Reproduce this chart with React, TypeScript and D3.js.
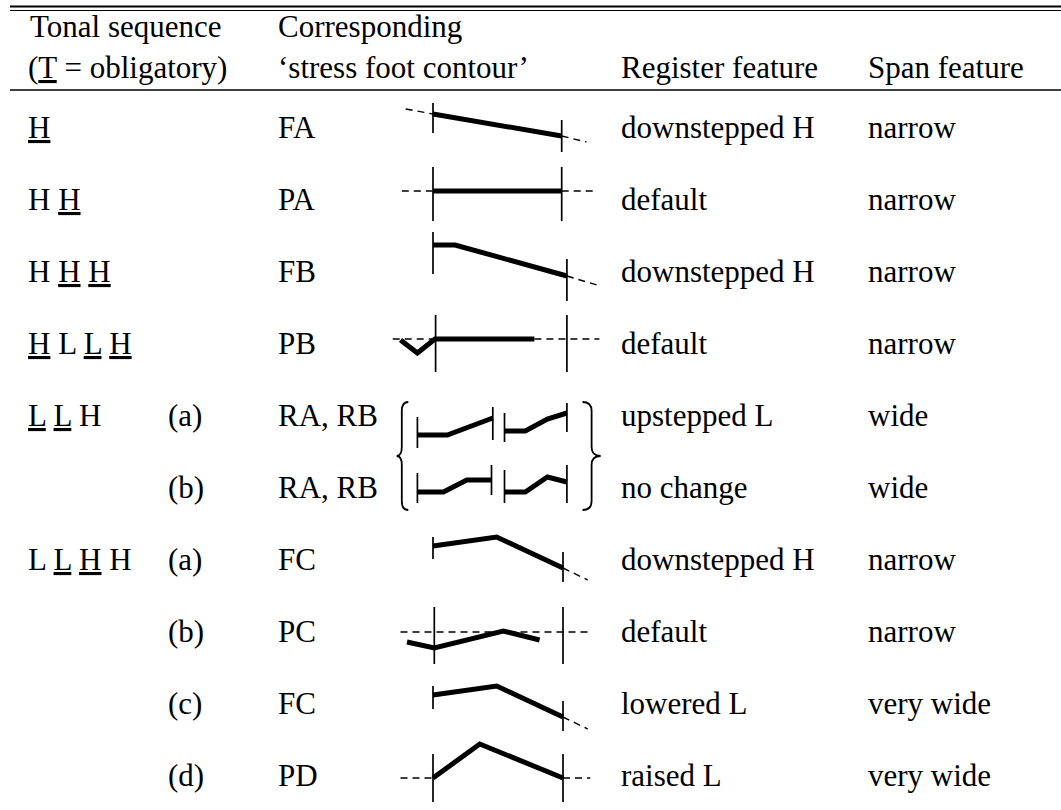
import React from "react";
import * as d3 from "d3";

const W = 1061;
const H = 810;

// tonal sequence per row: [tone, obligatory]
const tonal: [string, boolean][][] = [
  [["H", true]],
  [["H", false], ["H", true]],
  [["H", false], ["H", true], ["H", true]],
  [["H", true], ["L", false], ["L", true], ["H", true]],
  [["L", true], ["L", true], ["H", false]],
  [],
  [["L", false], ["L", true], ["H", true], ["H", false]],
  [],
  [],
  [],
];
const variants = ["", "", "", "", "(a)", "(b)", "(a)", "(b)", "(c)", "(d)"];
const contourCodes = ["FA", "PA", "FB", "PB", "RA, RB", "RA, RB", "FC", "PC", "FC", "PD"];
const registerFeature = [
  "downstepped H", "default", "downstepped H", "default", "upstepped L",
  "no change", "downstepped H", "default", "lowered L", "raised L",
];
const spanFeature = [
  "narrow", "narrow", "narrow", "narrow", "wide", "wide", "narrow", "narrow", "very wide", "very wide",
];

// contour points: [position in foot (0 = left boundary, 1 = right boundary), pitch level above row baseline]
type P = [number, number];
const contours: P[][][] = [
  [[[0, 24], [0.99, 2]]],
  [[[0, 19], [0.99, 19]]],
  [[[0, 37], [0.17, 37], [1.03, 6]]],
  [[[-0.25, 14], [-0.12, 1], [0.015, 15], [0.78, 15]]],
  [
    [[-0.12, -9], [0.11, -9], [0.46, 8]],
    [[0.55, -5], [0.71, -5], [0.88, 7], [1.03, 13]],
  ],
  [
    [[-0.12, 6], [0.08, 6], [0.26, 18], [0.45, 18]],
    [[0.55, 6], [0.71, 6], [0.88, 21], [1.03, 16]],
  ],
  [[[0, 24], [0.49, 33], [1.0, 2]]],
  [[[-0.2, 0], [0.01, -6], [0.54, 11], [0.82, 2]]],
  [[[0, 19], [0.49, 28], [1.0, -3]]],
  [[[0, 8], [0.36, 42], [1.0, 8]]],
];
// foot boundaries: [position, top level, bottom level]
const bounds: [number, number, number][][] = [
  [[0, 35, 5], [0.99, 18, -14]],
  [[0, 43, -11], [0.99, 43, -11]],
  [[0, 50, 8], [1.03, 23, -19]],
  [[0.02, 39, -18], [1.03, 39, -18]],
  [[-0.12, 9, -22], [0.46, 19, -14], [0.55, 13, -16], [1.03, 23, -6]],
  [[-0.12, 25, -5], [0.45, 33, 3], [0.55, 28, -5], [1.03, 33, -5]],
  [[0, 33, 11], [1.0, 18, -12]],
  [[0.01, 35, -22], [1.0, 35, -22]],
  [[0, 28, 5], [1.0, 13, -17]],
  [[0, 32, -16], [1.0, 32, -16]],
];
// dashed reference / continuation lines
const dashes: P[][][] = [
  [[[-0.21, 29], [0, 24]], [[0.99, 2], [1.18, -4]]],
  [[[-0.24, 19], [0, 19]], [[0.99, 19], [1.24, 19]]],
  [[[1.03, 6], [1.26, -3]]],
  [[[-0.31, 15], [0.02, 15]], [[0.78, 15], [1.28, 15]]],
  [],
  [],
  [[[1.0, 2], [1.19, -10]]],
  [[[-0.25, 10], [1.19, 10]]],
  [[[1.0, -3], [1.19, -15]]],
  [[[-0.25, 8], [0, 8]], [[1.0, 8], [1.21, 8]]],
];

const FONT = "'Liberation Serif', 'Times New Roman', serif";
const FS = 31;

const App = () => {
  const rowY = d3.scaleLinear().domain([0, 9]).range([138, 786]);
  const footX = d3.scaleLinear().domain([0, 1]).range([433, 563]);
  const colX = { tonal: 28, variant: 168, code: 278, register: 621, span: 868 };

  const lineFor = (row: number) =>
    d3
      .line<P>()
      .x((d) => footX(d[0]))
      .y((d) => rowY(row) - d[1]);

  const braceTop = rowY(4) - 24;
  const braceBot = rowY(5) + 12;
  const braceMid = (braceTop + braceBot) / 2;
  const brace = (hook: number, spine: number, tip: number) => {
    const h = footX(hook), s = footX(spine), t = footX(tip);
    const path = d3.path();
    path.moveTo(h, braceTop);
    path.quadraticCurveTo(s, braceTop, s, braceTop + 9);
    path.lineTo(s, braceMid - 9);
    path.quadraticCurveTo(s, braceMid, t, braceMid);
    path.quadraticCurveTo(s, braceMid, s, braceMid + 9);
    path.lineTo(s, braceBot - 9);
    path.quadraticCurveTo(s, braceBot, h, braceBot);
    return path.toString();
  };

  const textProps = { fontFamily: FONT, fontSize: FS, fill: "#000", style: { whiteSpace: "pre" as const } };

  return (
    <svg
      width={W}
      height={H}
      style={{ position: "absolute", left: 0, top: 0, background: "#fff" }}
    >
      {/* top rules */}
      <line x1={10} x2={W} y1={6.5} y2={6.5} stroke="#000" strokeWidth={2.2} />
      <line x1={10} x2={W} y1={10.5} y2={10.5} stroke="#000" strokeWidth={1.2} />

      {/* header */}
      <text x={colX.tonal + 2} y={37} {...textProps}>Tonal sequence</text>
      <text x={colX.tonal} y={78} {...textProps}>
        (<tspan style={{ textDecoration: "underline" }}>T</tspan> = obligatory)
      </text>
      <text x={colX.code} y={37} {...textProps}>Corresponding</text>
      <text x={colX.code} y={78} {...textProps}>‘stress foot contour’</text>
      <text x={colX.register} y={78} {...textProps}>Register feature</text>
      <text x={colX.span} y={78} {...textProps}>Span feature</text>
      <line x1={10} x2={W} y1={90} y2={90} stroke="#000" strokeWidth={1.6} />

      {/* rows */}
      {contourCodes.map((code, i) => (
        <g key={i}>
          <text x={colX.tonal} y={rowY(i)} {...textProps}>
            {tonal[i].map(([t, ob], j) => (
              <React.Fragment key={j}>
                {j > 0 ? " " : ""}
                <tspan style={ob ? { textDecoration: "underline" } : undefined}>{t}</tspan>
              </React.Fragment>
            ))}
          </text>
          <text x={colX.variant} y={rowY(i)} {...textProps}>{variants[i]}</text>
          <text x={colX.code} y={rowY(i)} {...textProps}>{code}</text>
          <text x={colX.register} y={rowY(i)} {...textProps}>{registerFeature[i]}</text>
          <text x={colX.span} y={rowY(i)} {...textProps}>{spanFeature[i]}</text>

          {dashes[i].map((seg, j) => (
            <path
              key={"d" + j}
              d={lineFor(i)(seg) ?? ""}
              fill="none"
              stroke="#000"
              strokeWidth={1.4}
              strokeDasharray="7 5"
            />
          ))}
          {bounds[i].map(([x, top, bot], j) => (
            <line
              key={"b" + j}
              x1={footX(x)}
              x2={footX(x)}
              y1={rowY(i) - top}
              y2={rowY(i) - bot}
              stroke="#000"
              strokeWidth={1.7}
            />
          ))}
          {contours[i].map((pts, j) => (
            <path
              key={"c" + j}
              d={lineFor(i)(pts) ?? ""}
              fill="none"
              stroke="#000"
              strokeWidth={5}
              strokeLinejoin="miter"
            />
          ))}
        </g>
      ))}

      {/* braces round the two RA, RB contours */}
      <path d={brace(-0.19, -0.24, -0.28)} fill="none" stroke="#000" strokeWidth={1.8} />
      <path d={brace(1.15, 1.22, 1.29)} fill="none" stroke="#000" strokeWidth={1.8} />
    </svg>
  );
};

export default App;
